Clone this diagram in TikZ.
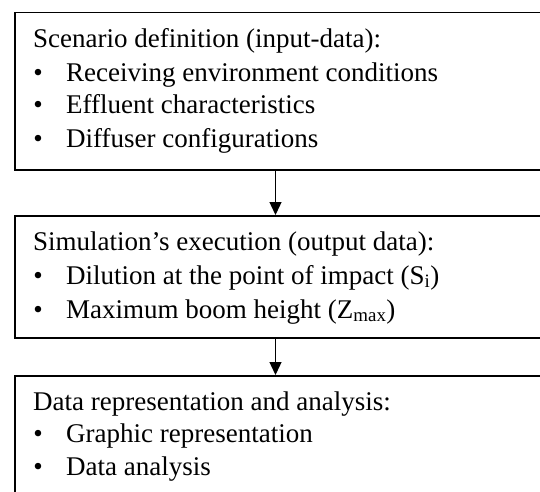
\documentclass[tikz,border=0pt]{standalone}
\usepackage{fontspec}
\setmainfont{Liberation Serif}
\usetikzlibrary{arrows.meta}
\tikzset{
  box/.style={draw=black, line width=1.5pt, rectangle, inner sep=0pt, anchor=north west},
  txt/.style={anchor=base west, inner sep=0pt, font=\fontsize{27}{30}\selectfont},
  bul/.style={anchor=base, inner sep=0pt, font=\fontsize{27}{30}\selectfont},
  conn/.style={line width=1.3pt, -{Triangle[width=12pt,length=13pt]}}
}
\begin{document}
\begin{tikzpicture}[x=1pt,y=-1pt]
\useasboundingbox (0,0) rectangle (540,491);
\clip (0,0) rectangle (540,491);
\node[box, minimum width=525.5pt, minimum height=157.5pt] (b1) at (14,11.5) {};
\node[box, minimum width=525.5pt, minimum height=122pt] (b2) at (14,215) {};
\node[box, minimum width=525.5pt, minimum height=160pt] (b3) at (14,375) {};
% box 1
\node[txt] (t1) at (33,47) {Scenario definition (input-data):};
\node[bul] (u11) at (38,81) {•};
\node[txt] (i11) at (66,81) {Receiving environment conditions};
\node[bul] (u12) at (38,113) {•};
\node[txt] (i12) at (66,113) {Effluent characteristics};
\node[bul] (u13) at (38,147) {•};
\node[txt] (i13) at (66,147) {Diffuser configurations};
% box 2
\node[txt] (t2) at (33,250) {Simulation’s execution (output data):};
\node[bul] (u21) at (38,284) {•};
\node[txt] (i21) at (66,284) {Dilution at the point of impact (S\textsubscript{i})};
\node[bul] (u22) at (38,318) {•};
\node[txt] (i22) at (66,318) {Maximum boom height (Z\textsubscript{max})};
% box 3
\node[txt] (t3) at (33,410) {Data representation and analysis:};
\node[bul] (u31) at (38,442) {•};
\node[txt] (i31) at (66,442) {Graphic representation};
\node[bul] (u32) at (38,475) {•};
\node[txt] (i32) at (66,475) {Data analysis};
% connectors
\draw[conn] ([xshift=-2pt]b1.south) -- ([xshift=-2pt]b2.north);
\draw[conn] ([xshift=-2pt]b2.south) -- ([xshift=-2pt]b3.north);
\end{tikzpicture}
\end{document}
